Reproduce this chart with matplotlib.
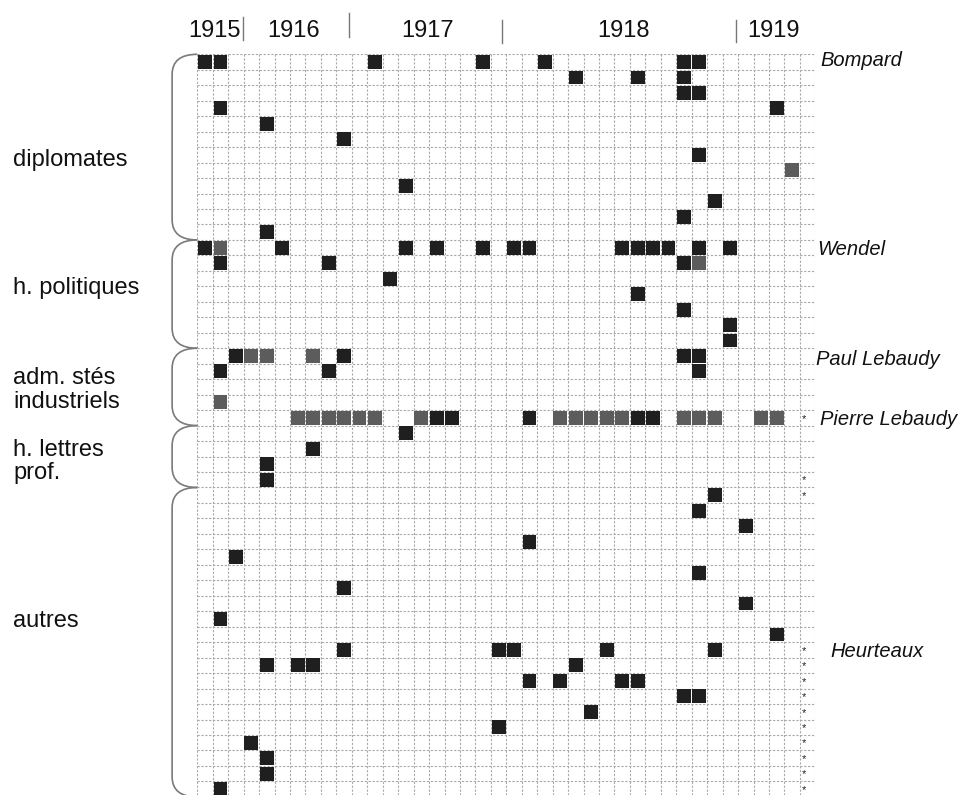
import matplotlib
matplotlib.use("Agg")
import matplotlib.pyplot as plt
from matplotlib.patches import Rectangle, PathPatch
from matplotlib.path import Path

plt.rcParams['font.family'] = ['Liberation Sans', 'DejaVu Sans']

n_cols = 40
n_rows = 48

# filled cells as (row, column)
black_cells = [
    (0, 0), (0, 1), (0, 11), (0, 18), (0, 22), (0, 31), (0, 32),
    (1, 24), (1, 28), (1, 31),
    (2, 31), (2, 32),
    (3, 1), (3, 37),
    (4, 4), (5, 9), (6, 32), (8, 13), (9, 33), (10, 31), (11, 4),
    (12, 0), (12, 5), (12, 13), (12, 15), (12, 18), (12, 20), (12, 21),
    (12, 27), (12, 28), (12, 29), (12, 30), (12, 32), (12, 34),
    (13, 1), (13, 8), (13, 31),
    (14, 12), (15, 28), (16, 31), (17, 34), (18, 34),
    (19, 2), (19, 9), (19, 31), (19, 32),
    (20, 1), (20, 8), (20, 32),
    (23, 15), (23, 16), (23, 21), (23, 28), (23, 29),
    (24, 13), (25, 7), (26, 4), (27, 4),
    (28, 33), (29, 32), (30, 35), (31, 21), (32, 2), (33, 32), (34, 9),
    (35, 35), (36, 1), (37, 37),
    (38, 9), (38, 19), (38, 20), (38, 26), (38, 33),
    (39, 4), (39, 6), (39, 7), (39, 24),
    (40, 21), (40, 23), (40, 27), (40, 28),
    (41, 31), (41, 32), (42, 25), (43, 19), (44, 3), (45, 4), (46, 4), (47, 1),
]

gray_cells = [
    (7, 38), (12, 1), (13, 32), (19, 3), (19, 4), (19, 7), (22, 1),
    (23, 6), (23, 7), (23, 8), (23, 9), (23, 10), (23, 11), (23, 14),
    (23, 23), (23, 24), (23, 25), (23, 26), (23, 27),
    (23, 31), (23, 32), (23, 33), (23, 36), (23, 37),
]

star_rows = [23, 27, 28, 38, 39, 40, 41, 42, 43, 44, 45, 46, 47]

# groups: label, first row, last row (exclusive)
group_labels = ['diplomates', 'h. politiques', 'adm. stés\nindustriels',
                'h. lettres\nprof.', 'autres']
group_starts = [0, 12, 19, 24, 28]
group_ends = [12, 19, 24, 28, 48]
group_label_rows = [6.8, 15.1, 21.7, 26.3, 36.6]

names = ['Bompard', 'Wendel', 'Paul Lebaudy', 'Pierre Lebaudy', 'Heurteaux']
name_rows = [0.4, 12.6, 19.75, 23.6, 38.6]
name_cols = [40.35, 40.1, 40.05, 40.3, 41.0]

years = ['1915', '1916', '1917', '1918', '1919']
year_cols = [1.1, 6.25, 14.9, 27.6, 37.3]
year_seps = [2.95, 9.8, 19.75, 34.85]
sep_tops = [-2.4, -2.65, -2.2, -2.2]
sep_bottoms = [-0.9, -1.1, -0.75, -0.8]

fig = plt.figure(figsize=(9.65, 7.95), dpi=100)
ax = fig.add_axes([197.3 / 965, -0.0024, 618 / 965, 0.9341])
ax.set_xlim(0, n_cols)
ax.set_ylim(n_rows, 0)
ax.axis('off')

# dotted grid
grid_kw = dict(color='#a8a8a8', lw=0.8, linestyle=(0, (2, 1.5)), zorder=1)
ax.vlines(range(n_cols + 1), 0, n_rows, **grid_kw)
ax.hlines(range(n_rows + 1), 0, n_cols, **grid_kw)

pad = 0.05
for cells, color in [(black_cells, '#1f1f1f'), (gray_cells, '#5c5c5c')]:
    for r, c in cells:
        ax.add_patch(Rectangle((c + pad, r + pad), 1 - 2 * pad, 1 - 2 * pad,
                               facecolor=color, edgecolor='none', zorder=2))

for r in star_rows:
    ax.text(39.25, r + 0.55, '*', fontsize=8, ha='center', va='center',
            color='#222222', zorder=3)

# brackets on the left
bx = -1.63
for top, bot in zip(group_starts, group_ends):
    verts = [(0, top), (bx, top), (bx, top + 1.3), (bx, bot - 1.3), (bx, bot), (0, bot)]
    codes = [Path.MOVETO, Path.CURVE3, Path.CURVE3, Path.LINETO, Path.CURVE3, Path.CURVE3]
    ax.add_patch(PathPatch(Path(verts, codes), fill=False, edgecolor='#7a7a7a',
                           lw=1.2, clip_on=False))

for label, r in zip(group_labels, group_label_rows):
    ax.text(-11.93, r, label, fontsize=17, ha='left', va='center',
            linespacing=1.08, color='#111111')

for name, r, c in zip(names, name_rows, name_cols):
    ax.text(c, r, name, fontsize=14.5, style='italic', ha='left', va='center',
            color='#111111')

for year, c in zip(years, year_cols):
    ax.text(c, -1.5, year, fontsize=17, ha='center', va='center', color='#111111')

for x, t, b in zip(year_seps, sep_tops, sep_bottoms):
    ax.plot([x, x], [t, b], color='#777777', lw=1.0, clip_on=False)

fig.savefig('out.png', dpi=100)
